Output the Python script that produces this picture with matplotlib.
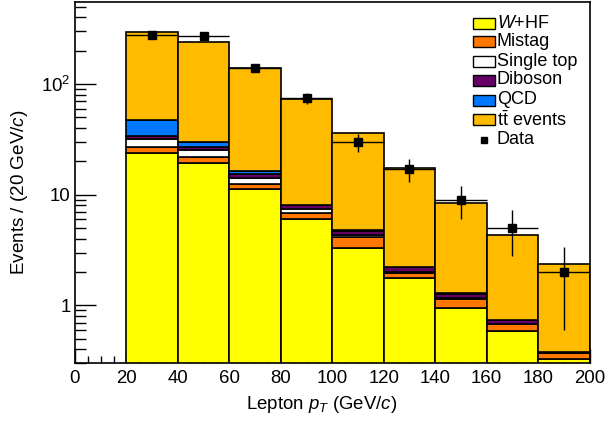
import matplotlib
matplotlib.use("Agg")
import matplotlib.pyplot as plt
import numpy as np
from matplotlib.patches import Rectangle
from matplotlib.lines import Line2D
from matplotlib.ticker import FixedLocator, FuncFormatter, LogLocator, NullFormatter, MultipleLocator

plt.rcParams['font.family'] = ['Liberation Sans', 'DejaVu Sans']
plt.rcParams['mathtext.fontset'] = 'custom'
plt.rcParams['mathtext.rm'] = 'Liberation Sans'
plt.rcParams['mathtext.it'] = 'Liberation Sans:italic'
plt.rcParams['mathtext.bf'] = 'Liberation Sans:bold'

# ---- data ----
bin_edges = [20, 40, 60, 80, 100, 120, 140, 160, 180, 200]
w_hf      = [23.9, 19.2, 11.2, 6.04, 3.33, 1.77, 0.945, 0.582, 0.328]
mistag    = [3.0, 2.6, 1.4, 0.81, 0.79, 0.21, 0.205, 0.093, 0.044]
single_top = [5.2, 3.6, 1.6, 0.65, 0.21, 0.04, 0.015, 0.01, 0.003]
diboson   = [1.7, 1.5, 1.2, 0.5, 0.41, 0.19, 0.10, 0.05, 0.006]
qcd       = [13.2, 3.0, 0.9, 0.15, 0.10, 0.03, 0.02, 0.003, 0.001]
ttbar     = [250, 211, 124, 65, 31.0, 15.2, 7.05, 3.56, 1.96]
data_vals = [277, 274, 139, 75, 30, 17, 9, 5, 2]
data_err  = [16.6, 16.5, 11.8, 8.7, 5.5, 4.1, 3.0, 2.2, 1.4]

labels = ['$W$+HF', 'Mistag', 'Single top', 'Diboson', 'QCD', r't$\bar{\mathrm{t}}$ events']
colors = ['#FFFF00', '#FF7700', '#FFFFFF', '#660066', '#0078FF', '#FFBB00']
series = [w_hf, mistag, single_top, diboson, qcd, ttbar]

W, H = 605, 424
fig = plt.figure(figsize=(W / 100, H / 100), dpi=100)
ax_l, ax_r, ax_t, ax_b = 75, 589.5, 2, 363.3
ax = fig.add_axes([ax_l / W, 1 - ax_b / H, (ax_r - ax_l) / W, (ax_b - ax_t) / H])
ax.set_yscale('log')
ax.set_xlim(0, 200)
ax.set_ylim(0.3, 550)

edges = np.array(bin_edges, dtype=float)
left = edges[:-1]
width = np.diff(edges)
centers = left + width / 2

bottom = np.zeros(len(left))
for vals, col in zip(series, colors):
    v = np.array(vals)
    ax.bar(left, v, width=width, bottom=bottom, align='edge', color=col,
           edgecolor='black', linewidth=1.2, zorder=2)
    bottom = bottom + v

ax.errorbar(centers, data_vals, yerr=data_err, xerr=width / 2, fmt='s',
            color='black', markersize=5.5, elinewidth=1.0, capsize=0, zorder=5)

# axes styling
for s in ax.spines.values():
    s.set_linewidth(1.2)
ax.xaxis.set_major_locator(MultipleLocator(20))
ax.xaxis.set_minor_locator(MultipleLocator(5))
ax.yaxis.set_major_locator(FixedLocator([1, 10, 100]))
ax.yaxis.set_major_formatter(FuncFormatter(lambda v, p: {1: '1', 10: '10', 100: '$10^2$'}.get(round(v), '')))
ax.yaxis.set_minor_locator(LogLocator(base=10, subs=np.arange(2, 10)))
ax.yaxis.set_minor_formatter(NullFormatter())
ax.tick_params(axis='both', which='both', direction='in', top=False, right=False,
               labelsize=13.4, width=1.0, color='black')
ax.tick_params(axis='x', which='major', length=10, pad=5)
ax.tick_params(axis='x', which='minor', length=5)
ax.tick_params(axis='y', which='major', length=15, pad=3)
ax.tick_params(axis='y', which='minor', length=8)

ax.set_xlabel('Lepton $p_{T}$ (GeV/$c$)', fontsize=13.4)
ax.set_ylabel('Events / (20 GeV/$c$)', fontsize=13.6)
ax.xaxis.set_label_coords(0.48, -0.085)
ax.yaxis.set_label_coords(-0.088, 0.475)

# legend (manual)
ys = [23.3, 41.7, 61, 80, 100, 120, 140]
bx0, bw, bh = 473, 22, 11
for i, (lab, col) in enumerate(zip(labels, colors)):
    yc = ys[i]
    r = Rectangle((bx0 / W, 1 - (yc + bh / 2) / H), bw / W, bh / H,
                  facecolor=col, edgecolor='black', linewidth=1.0, transform=fig.transFigure)
    fig.add_artist(r)
    fig.text(497 / W, 1 - yc / H, lab, fontsize=13.0, va='center', ha='left')
yc = ys[6]
fig.add_artist(Line2D([484 / W], [1 - yc / H], marker='s', color='black', markersize=4.5,
                      transform=fig.transFigure))
fig.text(497 / W, 1 - yc / H, 'Data', fontsize=13.0, va='center', ha='left')

fig.savefig('out.png', dpi=100)
